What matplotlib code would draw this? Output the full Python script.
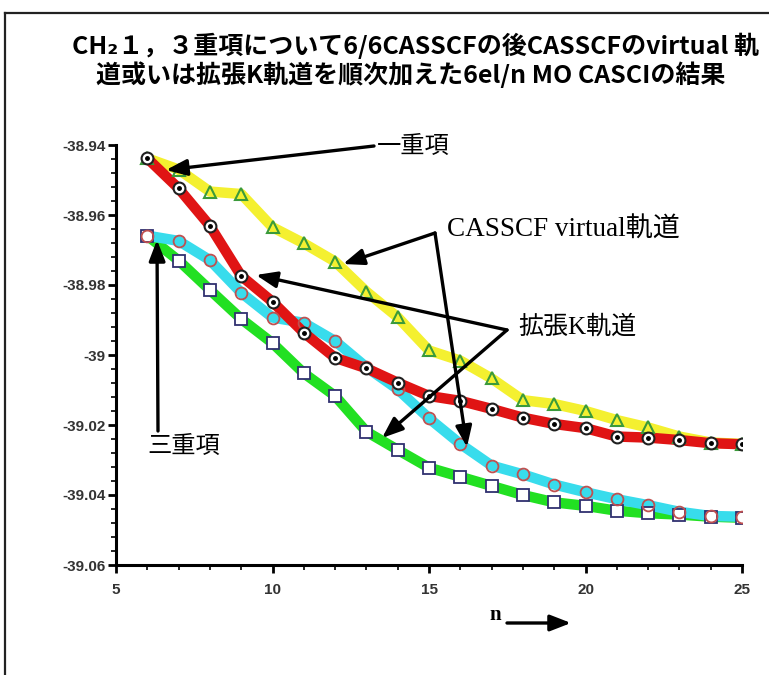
import matplotlib.pyplot as plt
from matplotlib.lines import Line2D
from matplotlib.patches import FancyArrowPatch
from matplotlib.ticker import MultipleLocator

plt.rcParams['font.family'] = ['Noto Sans CJK JP', 'DejaVu Sans']

# orbital count n
n = list(range(6, 26))

# singlet, CASSCF virtual orbitals added
s_virtual = [-38.9438, -38.9470, -38.9533, -38.9540, -38.9635, -38.9681, -38.9733,
             -38.9819, -38.9892, -38.9987, -39.0016, -39.0067, -39.0129, -39.0140,
             -39.0160, -39.0186, -39.0207, -39.0233, -39.0250, -39.0254]
# singlet, extended K orbitals added
s_extk = [-38.9438, -38.9524, -38.9631, -38.9774, -38.9848, -38.9936, -39.0008,
          -39.0038, -39.0079, -39.0117, -39.0131, -39.0154, -39.0179, -39.0197,
          -39.0209, -39.0233, -39.0236, -39.0243, -39.0252, -39.0255]
# triplet, CASSCF virtual orbitals added
t_virtual = [-38.9659, -38.9674, -38.9729, -38.9822, -38.9893, -38.9908, -38.9960,
             -39.0035, -39.0098, -39.0181, -39.0254, -39.0316, -39.0341, -39.0370,
             -39.0392, -39.0412, -39.0429, -39.0448, -39.0460, -39.0462]
# triplet, extended K orbitals added
t_extk = [-38.9659, -38.9730, -38.9814, -38.9897, -38.9966, -39.0052, -39.0117,
          -39.0219, -39.0271, -39.0322, -39.0348, -39.0374, -39.0400, -39.0421,
          -39.0431, -39.0445, -39.0452, -39.0456, -39.0462, -39.0465]

y_ticks = [-38.94, -38.96, -38.98, -39.0, -39.02, -39.04, -39.06]
y_labels = ['-38.94', '-38.96', '-38.98', '-39', '-39.02', '-39.04', '-39.06']

W, H = 769, 675
fig = plt.figure(figsize=(W / 100, H / 100), dpi=100)

def fx(x):
    return x / W

def fy(y):
    return 1 - y / H

ax = fig.add_axes([fx(116), fy(565), fx(742) - fx(116), (565 - 145) / H])

# thick coloured lines
ax.plot(n, t_extk, color='#22e022', lw=7.5, solid_capstyle='round', zorder=2)
ax.plot(n, t_virtual, color='#38dcec', lw=7.5, solid_capstyle='round', zorder=2)
ax.plot(n, s_virtual, color='#f4f030', lw=7.5, solid_capstyle='round', zorder=2)
ax.plot(n, s_extk, color='#e01414', lw=7.5, solid_capstyle='round', zorder=3)

# markers
ax.plot(n, t_extk, ls='none', marker='s', ms=8.5, mfc='white', mec='#303070', mew=1.3, zorder=4)
ax.plot(n, t_virtual, ls='none', marker='o', ms=8.5, mfc='none', mec='#c05050', mew=1.3, zorder=5)
ax.plot(n, s_virtual, ls='none', marker='^', ms=9, mfc='none', mec='#3a9a3a', mew=1.5, zorder=4)
ax.plot(n, s_extk, ls='none', marker='o', ms=8.5, mfc='white', mec='#202020', mew=1.5, zorder=5)
ax.plot(n, s_extk, ls='none', marker='o', ms=2.5, mfc='black', mec='black', zorder=6)

ax.set_xlim(5, 25)
ax.set_ylim(-39.06, -38.94)
ax.xaxis.set_major_locator(MultipleLocator(5))
ax.xaxis.set_minor_locator(MultipleLocator(1))
ax.yaxis.set_minor_locator(MultipleLocator(0.004))
ax.set_yticks(y_ticks)
ax.set_yticklabels(y_labels)

for side in ['top', 'right']:
    ax.spines[side].set_visible(False)
for side in ['left', 'bottom']:
    ax.spines[side].set_linewidth(2.2)
ax.tick_params(which='major', direction='out', length=6, width=2, labelsize=11,
               colors='black', labelcolor='#333333')
ax.tick_params(which='minor', direction='out', length=3.5, width=1.2)
ax.tick_params(axis='x', which='major', pad=7)
ax.tick_params(axis='y', which='major', pad=1.5)
for lab in ax.get_xticklabels() + ax.get_yticklabels():
    lab.set_fontweight('bold')
    lab.set_family(['Liberation Sans', 'DejaVu Sans'])

# outer frame
fig.add_artist(Line2D([fx(5), fx(5)], [0, fy(13)], color='#222222', lw=1.6))
fig.add_artist(Line2D([fx(5), 1], [fy(13), fy(13)], color='#222222', lw=1.6))

# title
fig.text(fx(416), fy(46), 'CH₂１，３重項について6/6CASSCFの後CASSCFのvirtual 軌',
         ha='center', va='center', fontsize=18, fontweight='bold')
fig.text(fx(411), fy(75), '道或いは拡張K軌道を順次加えた6el/n MO CASCIの結果',
         ha='center', va='center', fontsize=18, fontweight='bold')

lab_font = ['Liberation Serif', 'Noto Sans CJK JP']

def arr(tail, head):
    fig.add_artist(FancyArrowPatch(
        (fx(tail[0]), fy(tail[1])), (fx(head[0]), fy(head[1])),
        transform=fig.transFigure, mutation_scale=14,
        arrowstyle='-|>,head_length=0.9,head_width=0.35', color='black', lw=2.4,
        shrinkA=0, shrinkB=0))

# 一重項
fig.text(fx(377), fy(147), '一重項', ha='left', va='center', fontsize=17.5, family=lab_font)
arr((374, 146), (166, 170))

# CASSCF virtual
fig.text(fx(447), fy(230), 'CASSCF virtual軌道', ha='left', va='center', fontsize=19.5,
         family=lab_font)
arr((435, 233), (343, 264))
arr((435, 233), (467, 447))

# 拡張K
fig.text(fx(518), fy(327), '拡張K軌道', ha='left', va='center', fontsize=18, family=lab_font)
arr((507, 330), (256, 275))
arr((507, 330), (382, 438))

# 三重項
fig.text(fx(147), fy(447), '三重項', ha='left', va='center', fontsize=17.5, family=lab_font)
arr((158, 431), (157, 240))

# x label with arrow
fig.text(fx(495), fy(615), 'n', ha='center', va='center', fontsize=15, fontweight='bold',
         family=['Liberation Serif'])
arr((507, 623), (571, 623))

fig.savefig('out.png', dpi=100)
